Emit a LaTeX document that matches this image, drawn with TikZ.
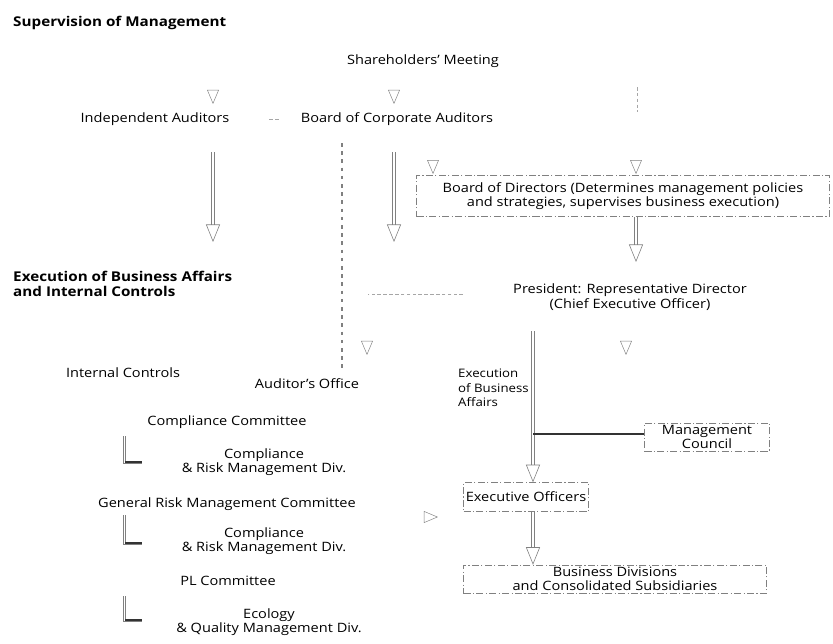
\documentclass[tikz,border=0pt]{standalone}
\usepackage{fontspec}
\setmainfont{Open Sans}[FakeStretch=1.13]
\usetikzlibrary{arrows.meta}

\begin{document}
\begin{tikzpicture}[
    x=0.03cm, y=-0.03cm,
    txt/.style={font=\fontsize{11}{12.5}\selectfont, inner sep=0pt, align=center},
    head/.style={font=\fontsize{11.5}{12.3}\selectfont\bfseries, inner sep=0pt, anchor=west, align=left},
    box/.style={txt, draw=gray, dashed, dash pattern=on 6pt off 2pt on 1pt off 2pt},
    arr/.style={draw=gray, line width=0.5pt, double=white, double distance=2.5pt, -{Triangle[open, length=15pt, width=12pt]}},
    tip/.style={draw=gray, line width=0.4pt, double=white, double distance=1.2pt, -{Triangle[open, length=12pt, width=10pt]}},
    faint/.style={draw=gray!70, densely dashed, line width=0.4pt},
    dots/.style={draw=gray, line width=1.5pt, dash pattern=on 3pt off 4pt},
    brk/.style={draw=gray, line width=0.6pt}
]
\useasboundingbox (0,0) rectangle (833,644);

% Headings
\node[head] (sup) at (13,23) {Supervision of Management};
\node[head] (exe) at (13,284) {Execution of Business Affairs\\and Internal Controls};

% Supervision of management
\node[txt] (sm) at (423,61) {Shareholders' Meeting};
\node[txt] (ia) at (155,119) {Independent Auditors};
\node[txt] (bca) at (397,119) {Board of Corporate Auditors};
\node[box, minimum width=12.39cm, minimum height=1.23cm] (bod) at (623,196)
    {Board of Directors (Determines management policies\\and strategies, supervises business execution)};

% Execution of business affairs
\node[txt] (pres) at (630,297) {President: Representative Director\\(Chief Executive Officer)};
\node[txt, font=\fontsize{10}{12.5}\selectfont, anchor=west, align=left] (eba) at (458,388)
    {Execution\\of Business\\Affairs};
\node[box, minimum width=3.75cm, minimum height=0.84cm] (mc) at (707,437) {Management\\Council};
\node[box, minimum width=3.75cm, minimum height=0.87cm] (eo) at (526,497) {Executive Officers};
\node[box, minimum width=9.09cm, minimum height=0.84cm] (bd) at (615,579)
    {Business Divisions\\and Consolidated Subsidiaries};

% Internal controls
\node[txt] (ic) at (123,373) {Internal Controls};
\node[txt] (ao) at (307,384) {Auditor's Office};
\node[txt] (cc) at (227,422) {Compliance Committee};
\node[txt] (crm1) at (264,462) {Compliance\\\& Risk Management Div.};
\node[txt] (grm) at (227,504) {General Risk Management Committee};
\node[txt] (crm2) at (264,541) {Compliance\\\& Risk Management Div.};
\node[txt] (pl) at (228,581) {PL Committee};
\node[txt] (eqm) at (269,622) {Ecology\\\& Quality Management Div.};

% Arrows from the shareholders' meeting
\coordinate (s1) at (213,77);
\coordinate (s2) at (394,84);
\coordinate (s3) at (637,87);
\coordinate (s4) at (636,142);
\coordinate (s5) at (433,142);
\draw[tip] (s1) -- (213,104);
\draw[tip] (s2) -- (394,104);
\draw[faint] (s3) -- (637,112);
\draw[tip, shorten >=1pt] (s4) -- (s4 |- bod.north);
\draw[tip, shorten >=1pt] (s5) -- (s5 |- bod.north);
\draw[faint] (bca.west) ++(-22,0) coordinate (bw) -- ++(-11,0);

% Audit and supervision
\coordinate (a1) at (213,152);
\coordinate (a2) at (213,242);
\coordinate (a3) at (394,152);
\coordinate (a4) at (394,242);
\draw[arr] (a1) -- (a2);
\draw[arr] (a3) -- (a4);
\coordinate (d1) at (342,143);
\draw[dots, shorten >=3mm] (d1) -- (d1 |- ao.north);

% Board of directors to president
\coordinate (p2) at (636,262);
\draw[arr] (bod.south -| p2) -- (p2);

% President to auditor's office
\coordinate (h1) at (463,294);
\coordinate (h2) at (367,294);
\coordinate (h3) at (367,355);
\draw[faint] (h1) -- (h2);
\draw[tip] (h2) -- (h3);
\coordinate (e1) at (626,330);
\coordinate (e2) at (626,355);
\draw[tip] (e1) -- (e2);

% Execution line
\coordinate (x1) at (533,331);
\coordinate (x2) at (533,434);
\draw[arr] (x1) -- (x1 |- eo.north);
\draw[draw=gray!40!black, line width=1.8pt] (x2) -- (mc.west |- x2);
\draw[arr] (eo.south -| x1) -- (x1 |- bd.north);

% Internal controls to executive officers
\coordinate (c1) at (408,517);
\coordinate (c2) at (438,517);
\draw[tip] (c1) -- (c2);

% Brackets
\coordinate (b1) at (123,436);
\coordinate (b2) at (123,515);
\coordinate (b3) at (123,596);
\foreach \b/\h in {b1/27, b2/29, b3/25} {
    \draw[brk] (\b) -- ++(0,\h) -- ++(19,0);
    \draw[brk] (\b) ++(2,0) -- ++(0,\h-2) -- ++(17,0);
    \draw[draw=gray!40!black, line width=1.2pt] (\b) ++(2,\h-1) -- ++(17,0);
}

\end{tikzpicture}
\end{document}
